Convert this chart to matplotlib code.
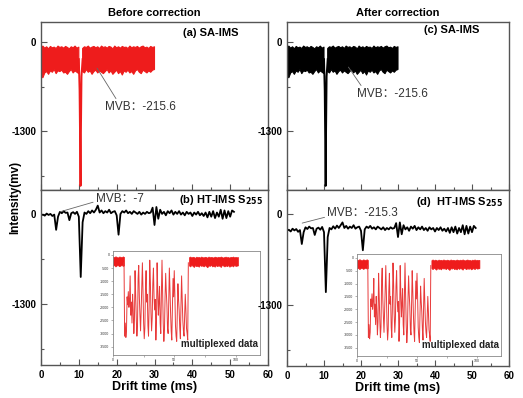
import numpy as np
import matplotlib
matplotlib.use("Agg")
import matplotlib.pyplot as plt

plt.rcParams['font.family'] = ['Liberation Sans', 'Noto Sans CJK SC', 'DejaVu Sans']
plt.rcParams['axes.unicode_minus'] = False

# SA-IMS noise band (upper / lower envelope, every 0.5 ms from 0 to 30 ms), gap at the peak
sa_upper = [-80, -60, -90, -70, -100, -65, -85, -75, -95, -60, -80, -70, -90, -65, -80, -100,
            -70, -85, -60, -90, -75, np.nan, -95, -70, -80, -60, -90, -75, -65, -85, -70, -95,
            -60, -80, -70, -90, -65, -75, -100, -60, -85, -70, -90, -65, -80, -75, -95, -60,
            -85, -70, -80, -65, -90, -70, -60, -85, -75, -95, -65, -80, -70]
sa_lower = [-480, -520, -450, -430, -470, -420, -440, -400, -460, -420, -430, -410, -450, -440,
            -470, -430, -400, -450, -420, -440, -460, np.nan, -430, -450, -400, -440, -420, -470,
            -430, -410, -450, -420, -440, -460, -430, -400, -450, -420, -470, -440, -410, -460,
            -430, -480, -420, -440, -410, -450, -430, -470, -420, -400, -440, -460, -410, -430,
            -450, -420, -440, -410, -400]
sa_peak_t = [10.0, 10.2, 10.35, 10.45, 10.55, 10.7, 11.0]
sa_peak_v = [-250, -700, -1500, -2090, -1300, -500, -250]

# HT-IMS S255 demultiplexed spectra, every 0.5 ms from 0 to 51 ms
ht_before = [-20, -10, -25, 5, -15, 0, -30, -10, -230, -40, 30, 10, 40, 15, 20, -90, 10, 25, 0, 30,
             -40, -910, -120, 20, 0, 40, 10, 50, 20, 60, 120, 20, 50, 10, 40, 20, 60, 10, 30, 40,
             -20, -300, 0, 40, 20, 50, 10, 30, 0, 40, 20, 0, 30, -10, 20, 0, 30, 10, 20, 90,
             -160, 100, -70, 60, 0, 30, -20, 40, 10, 50, -10, 30, 0, 40, -10, 20, -20, 30, 0, 20,
             -30, 20, -10, 30, -20, 10, -30, 20, -50, 30, -40, 40, -60, 20, -40, 60, -70, 50, -60, 40,
             -40, 50, 30]
ht_after = [-240, -225, -250, -210, -235, -215, -255, -230, -430, -260, -190, -215, -180, -205, -200, -300,
            -210, -195, -225, -185, -260, -1120, -330, -200, -220, -175, -210, -165, -200, -160, -120, -200,
            -170, -210, -180, -200, -160, -210, -190, -180, -240, -520, -220, -180, -200, -170, -210, -190,
            -220, -180, -200, -220, -190, -230, -200, -220, -190, -210, -200, -130, -330, -120, -290, -160,
            -220, -190, -240, -180, -210, -170, -230, -190, -220, -180, -230, -200, -240, -190, -220, -200,
            -250, -200, -230, -190, -240, -210, -250, -200, -270, -190, -260, -180, -280, -200, -260, -160,
            -290, -170, -280, -180, -260, -170, -200]

# inset: raw multiplexed data
mux_base1_t = [0, 1, 2, 3, 4, 5, 6, 7, 8, 9]
mux_base1_hi = [-60, -90, -50, -80, -100, -60, -70, -90, -55, -80]
mux_base1_lo = [-420, -380, -440, -400, -390, -430, -410, -380, -420, -400]
# oscillating part, every 0.5 from 9 to 61.5
mux_v = [-300, -3100, -2600, -3150, -2900, -1600, -1900, -1400, -2000, -1700, -800, -2300, -1800,
         -2600, -1500, -2100, -3000, -2500, -600, -1500, -2400, -3100, -2700, -900, -400, -1600,
         -2300, -2900, -2100, -1200, -300, -1400, -2600, -3200, -2800, -1300, -600, -1800, -1500,
         -2700, -3100, -1900, -200, -1000, -2200, -2900, -2400, -1100, -500, -1600, -2100, -1700,
         -3250, -2500, -300, -1300, -2300, -1800, -1200, -2600, -3000, -1500, -200, -1400, -2600,
         -3300, -2900, -1600, -700, -1400, -1900, -2800, -3000, -1800, -500, -1300, -2200, -2900,
         -3250, -2000, -900, -1600, -600, -1500, -2700, -3100, -3300, -2200, -1100, -1700, -2100,
         -2800, -3200, -1900, -800, -1700, -2500, -2900, -3100, -2300, -1500, -2100, -2800, -3000,
         -3250, -300]
mux_base2_t = list(range(62, 103))
mux_base2_hi = [-90, -60, -100, -70, -80, -110, -65, -90, -75, -100, -60, -85, -95, -70, -80, -105,
                -60, -90, -75, -85, -100, -65, -80, -95, -70, -90, -60, -85, -100, -75, -65, -90,
                -80, -105, -70, -85, -60, -95, -75, -90, -80]
mux_base2_lo = [-400, -440, -380, -420, -460, -390, -430, -410, -450, -380, -420, -400, -440, -390,
                -430, -470, -400, -420, -380, -440, -410, -450, -390, -430, -400, -420, -460, -380,
                -410, -440, -400, -430, -390, -450, -420, -400, -440, -380, -420, -410, -400]

sa_t = np.linspace(0, 30, len(sa_upper))
ht_t = np.linspace(0, 51, len(ht_before))
mux_t = np.linspace(9, 61.5, len(mux_v))

fig = plt.figure(figsize=(5.23, 3.98), dpi=100)
W, H = 523.0, 398.0


def px_axes(x0, y0, x1, y1):
    return fig.add_axes([x0 / W, 1 - y1 / H, (x1 - x0) / W, (y1 - y0) / H])


frame = '#555555'


def style(ax, ylim, xlabels):
    ax.set_xlim(0, 60)
    ax.set_ylim(*ylim)
    ax.set_xticks(range(0, 61, 10))
    ax.set_xticks(range(5, 60, 10), minor=True)
    ax.set_yticks([0, -1300])
    ax.set_yticks([-650, -1950], minor=True)
    ax.tick_params(which='both', direction='in', colors=frame, labelcolor='black', labelsize=7)
    ax.tick_params(which='major', length=4, width=0.8)
    ax.tick_params(which='minor', length=2.5, width=0.8)
    for lab in ax.get_yticklabels() + ax.get_xticklabels():
        lab.set_fontweight('bold')
    if not xlabels:
        ax.tick_params(axis='x', labelbottom=False)
    else:
        ax.set_xlabel('Drift time (ms)', fontsize=9, fontweight='bold', labelpad=1)
    for s in ax.spines.values():
        s.set_color(frame)
        s.set_linewidth(1.0)


def inset(x0, y0, x1, y1):
    ins = px_axes(x0, y0, x1, y1)
    ins.fill_between(mux_base1_t, mux_base1_lo, mux_base1_hi, color='#ee1c1c', lw=0.5)
    ins.fill_between(mux_base2_t, mux_base2_lo, mux_base2_hi, color='#ee1c1c', lw=0.5)
    ins.plot(mux_t, mux_v, color='#e83a3a', lw=0.7)
    ins.set_xlim(0, 120)
    ins.set_ylim(-3820, 150)
    ins.set_xticks([0, 50, 100])
    ins.set_xticks([25, 75], minor=True)
    ins.set_yticks(range(0, -3501, -500))
    ins.tick_params(which='both', direction='out', length=1.5, width=0.4, labelsize=2.6,
                    pad=1, colors='#777777', labelcolor='#333333')
    for s in ins.spines.values():
        s.set_color('#888888')
        s.set_linewidth(0.6)
    ins.text(0.985, 0.06, 'multiplexed data', transform=ins.transAxes, ha='right', va='bottom',
             fontsize=7, fontweight='bold', color='#222222')


ann_kw = dict(fontsize=8.5, color='#333333', va='center', ha='left')

# (a) before correction, SA-IMS
ax_a = px_axes(41, 22, 268, 190)
ax_a.fill_between(sa_t, sa_lower, sa_upper, color='#ee1c1c', lw=0.8, edgecolor='#ee1c1c')
ax_a.plot(sa_peak_t, sa_peak_v, color='#ee1c1c', lw=1.4)
style(ax_a, (-2150, 290), False)
ax_a.text(0.868, 0.935, '(a) SA-IMS', transform=ax_a.transAxes, ha='right', va='center',
          fontsize=8, fontweight='bold')
ax_a.annotate('MVB：-215.6', xy=(14.8, -380), xytext=(16.9, -950),
              arrowprops=dict(arrowstyle='-', color='#666666', lw=0.6, relpos=(0.18, 1.0),
                              shrinkA=0, shrinkB=0), **ann_kw)
ax_a.set_title('Before correction', fontsize=8, fontweight='bold', pad=4)

# (b) before correction, HT-IMS
ax_b = px_axes(41, 190, 268, 365)
ax_b.plot(ht_t, ht_before, color='black', lw=1.3)
style(ax_b, (-2180, 345), True)
ax_b.text(0.978, 0.943, '(b) HT-IMS S$_{\\mathbf{255}}$', transform=ax_b.transAxes, ha='right',
          va='center', fontsize=8, fontweight='bold')
ax_b.annotate('MVB：-7', xy=(5.0, 30), xytext=(14.5, 215),
              arrowprops=dict(arrowstyle='-', color='#666666', lw=0.6, relpos=(0.0, 0.3),
                              shrinkA=0, shrinkB=0), **ann_kw)
inset(113, 251, 260, 355)

# (c) after correction, SA-IMS
ax_c = px_axes(287, 22, 509, 190)
ax_c.fill_between(sa_t, sa_lower, sa_upper, color='black', lw=0.8, edgecolor='black')
ax_c.plot(sa_peak_t, sa_peak_v, color='black', lw=1.4)
style(ax_c, (-2150, 290), False)
ax_c.text(0.865, 0.952, '(c) SA-IMS', transform=ax_c.transAxes, ha='right', va='center',
          fontsize=8, fontweight='bold')
ax_c.annotate('MVB：-215.6', xy=(16.6, -365), xytext=(19.0, -760),
              arrowprops=dict(arrowstyle='-', color='#666666', lw=0.6, relpos=(0.08, 1.0),
                              shrinkA=0, shrinkB=0), **ann_kw)
ax_c.set_title('After correction', fontsize=8, fontweight='bold', pad=4)

# (d) after correction, HT-IMS
ax_d = px_axes(287, 190, 509, 366)
ax_d.plot(ht_t, ht_after, color='black', lw=1.3)
style(ax_d, (-2180, 345), True)
ax_d.text(0.973, 0.93, '(d)  HT-IMS S$_{\\mathbf{255}}$', transform=ax_d.transAxes, ha='right',
          va='center', fontsize=8, fontweight='bold')
ax_d.annotate('MVB：-215.3', xy=(4.1, -130), xytext=(10.9, 15),
              arrowprops=dict(arrowstyle='-', color='#666666', lw=0.6, relpos=(0.0, 0.2),
                              shrinkA=0, shrinkB=0), **ann_kw)
inset(357, 254, 501, 356)

fig.text(15 / W, 1 - 197 / H, 'Intensity(mv)', rotation=90, ha='center', va='center',
         fontsize=8.5, fontweight='bold')

fig.savefig('out.png', dpi=100)
